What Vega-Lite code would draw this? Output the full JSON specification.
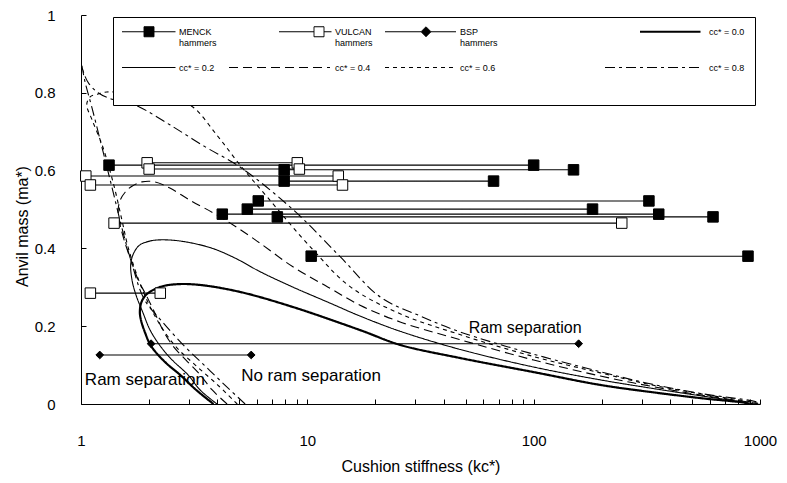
{
"$schema": "https://vega.github.io/schema/vega-lite/v6.json",
"width": 679, "height": 389,
"autosize": {"type": "none"},
"padding": {"left": 81, "top": 15, "right": 27, "bottom": 79},
"background": "white",
"config": {"view": {"stroke": null}, "font": "Liberation Sans",
 "axis": {"grid": false, "domainColor": "black", "tickColor": "black", "labelColor": "black", "titleColor": "black", "titleFontWeight": "normal", "labelFontSize": 15, "titleFontSize": 16, "labelOverlap": false, "labelBound": false, "labelFlush": false}},
"datasets": {
 "lines": [
  {"s":"MENCK","id":"M1","o":0,"k":1.33,"m":0.614},{"s":"MENCK","id":"M1","o":1,"k":100,"m":0.614},
  {"s":"MENCK","id":"M2","o":0,"k":7.9,"m":0.602},{"s":"MENCK","id":"M2","o":1,"k":150,"m":0.602},
  {"s":"MENCK","id":"M3","o":0,"k":7.9,"m":0.573},{"s":"MENCK","id":"M3","o":1,"k":66.5,"m":0.573},
  {"s":"MENCK","id":"M4","o":0,"k":6.07,"m":0.522},{"s":"MENCK","id":"M4","o":1,"k":323,"m":0.522},
  {"s":"MENCK","id":"M5","o":0,"k":5.43,"m":0.501},{"s":"MENCK","id":"M5","o":1,"k":182,"m":0.501},
  {"s":"MENCK","id":"M6","o":0,"k":4.21,"m":0.488},{"s":"MENCK","id":"M6","o":1,"k":357,"m":0.488},
  {"s":"MENCK","id":"M7","o":0,"k":7.37,"m":0.481},{"s":"MENCK","id":"M7","o":1,"k":620,"m":0.481},
  {"s":"MENCK","id":"M8","o":0,"k":10.4,"m":0.38},{"s":"MENCK","id":"M8","o":1,"k":885,"m":0.38},
  {"s":"VULCAN","id":"V1","o":0,"k":1.96,"m":0.62},{"s":"VULCAN","id":"V1","o":1,"k":9.03,"m":0.62},
  {"s":"VULCAN","id":"V2","o":0,"k":2.0,"m":0.604},{"s":"VULCAN","id":"V2","o":1,"k":9.22,"m":0.604},
  {"s":"VULCAN","id":"V3","o":0,"k":1.05,"m":0.586},{"s":"VULCAN","id":"V3","o":1,"k":13.7,"m":0.586},
  {"s":"VULCAN","id":"V4","o":0,"k":1.1,"m":0.563},{"s":"VULCAN","id":"V4","o":1,"k":14.3,"m":0.563},
  {"s":"VULCAN","id":"V5","o":0,"k":1.4,"m":0.465},{"s":"VULCAN","id":"V5","o":1,"k":245,"m":0.465},
  {"s":"VULCAN","id":"V6","o":0,"k":1.1,"m":0.285},{"s":"VULCAN","id":"V6","o":1,"k":2.24,"m":0.285},
  {"s":"BSP","id":"B1","o":0,"k":1.21,"m":0.126},{"s":"BSP","id":"B1","o":1,"k":5.65,"m":0.126},
  {"s":"BSP","id":"B2","o":0,"k":2.04,"m":0.155},{"s":"BSP","id":"B2","o":1,"k":158,"m":0.155},

  {"s":"cc0.0","id":"c0","o":0,"k":3.85,"m":0},{"s":"cc0.0","id":"c0","o":1,"k":3.23,"m":0.036},{"s":"cc0.0","id":"c0","o":2,"k":2.74,"m":0.075},{"s":"cc0.0","id":"c0","o":3,"k":2.35,"m":0.108},{"s":"cc0.0","id":"c0","o":4,"k":2.04,"m":0.149},{"s":"cc0.0","id":"c0","o":5,"k":1.92,"m":0.183},{"s":"cc0.0","id":"c0","o":6,"k":1.84,"m":0.216},{"s":"cc0.0","id":"c0","o":7,"k":1.82,"m":0.237},{"s":"cc0.0","id":"c0","o":8,"k":1.85,"m":0.262},{"s":"cc0.0","id":"c0","o":9,"k":1.95,"m":0.282},{"s":"cc0.0","id":"c0","o":10,"k":2.24,"m":0.301},{"s":"cc0.0","id":"c0","o":11,"k":2.66,"m":0.308},{"s":"cc0.0","id":"c0","o":12,"k":3.36,"m":0.306},{"s":"cc0.0","id":"c0","o":13,"k":5.05,"m":0.288},{"s":"cc0.0","id":"c0","o":14,"k":8.67,"m":0.249},{"s":"cc0.0","id":"c0","o":15,"k":17.1,"m":0.19},{"s":"cc0.0","id":"c0","o":16,"k":25.7,"m":0.152},{"s":"cc0.0","id":"c0","o":17,"k":47.5,"m":0.118},{"s":"cc0.0","id":"c0","o":18,"k":100,"m":0.082},{"s":"cc0.0","id":"c0","o":19,"k":197,"m":0.049},{"s":"cc0.0","id":"c0","o":20,"k":327,"m":0.031},{"s":"cc0.0","id":"c0","o":21,"k":548,"m":0.015},{"s":"cc0.0","id":"c0","o":22,"k":860,"m":0.003},{"s":"cc0.0","id":"c0","o":23,"k":900,"m":0},

  {"s":"cc0.2","id":"c2","o":0,"k":3.99,"m":0},{"s":"cc0.2","id":"c2","o":1,"k":3.36,"m":0.036},{"s":"cc0.2","id":"c2","o":2,"k":2.97,"m":0.075},{"s":"cc0.2","id":"c2","o":3,"k":2.53,"m":0.113},{"s":"cc0.2","id":"c2","o":4,"k":2.24,"m":0.149},{"s":"cc0.2","id":"c2","o":5,"k":2.02,"m":0.19},{"s":"cc0.2","id":"c2","o":6,"k":1.88,"m":0.234},{"s":"cc0.2","id":"c2","o":7,"k":1.75,"m":0.28},{"s":"cc0.2","id":"c2","o":8,"k":1.68,"m":0.319},{"s":"cc0.2","id":"c2","o":9,"k":1.66,"m":0.362},{"s":"cc0.2","id":"c2","o":10,"k":1.72,"m":0.391},{"s":"cc0.2","id":"c2","o":11,"k":1.82,"m":0.409},{"s":"cc0.2","id":"c2","o":12,"k":2.02,"m":0.419},{"s":"cc0.2","id":"c2","o":13,"k":2.24,"m":0.422},{"s":"cc0.2","id":"c2","o":14,"k":2.74,"m":0.419},{"s":"cc0.2","id":"c2","o":15,"k":3.72,"m":0.402},{"s":"cc0.2","id":"c2","o":16,"k":4.8,"m":0.375},{"s":"cc0.2","id":"c2","o":17,"k":6.19,"m":0.34},{"s":"cc0.2","id":"c2","o":18,"k":8.67,"m":0.3},{"s":"cc0.2","id":"c2","o":19,"k":12.3,"m":0.262},{"s":"cc0.2","id":"c2","o":20,"k":17.1,"m":0.226},{"s":"cc0.2","id":"c2","o":21,"k":25.7,"m":0.187},{"s":"cc0.2","id":"c2","o":22,"k":47.5,"m":0.14},{"s":"cc0.2","id":"c2","o":23,"k":100,"m":0.095},{"s":"cc0.2","id":"c2","o":24,"k":197,"m":0.062},{"s":"cc0.2","id":"c2","o":25,"k":327,"m":0.041},{"s":"cc0.2","id":"c2","o":26,"k":548,"m":0.021},{"s":"cc0.2","id":"c2","o":27,"k":887,"m":0.003},{"s":"cc0.2","id":"c2","o":28,"k":950,"m":0},

  {"s":"cc0.4","id":"c4","o":0,"k":4.42,"m":0},{"s":"cc0.4","id":"c4","o":1,"k":3.8,"m":0.036},{"s":"cc0.4","id":"c4","o":2,"k":3.36,"m":0.075},{"s":"cc0.4","id":"c4","o":3,"k":2.91,"m":0.113},{"s":"cc0.4","id":"c4","o":4,"k":2.55,"m":0.149},{"s":"cc0.4","id":"c4","o":5,"k":2.3,"m":0.19},{"s":"cc0.4","id":"c4","o":6,"k":2.12,"m":0.234},{"s":"cc0.4","id":"c4","o":7,"k":1.94,"m":0.28},{"s":"cc0.4","id":"c4","o":8,"k":1.79,"m":0.319},{"s":"cc0.4","id":"c4","o":9,"k":1.66,"m":0.37},{"s":"cc0.4","id":"c4","o":10,"k":1.55,"m":0.422},{"s":"cc0.4","id":"c4","o":11,"k":1.49,"m":0.46},{"s":"cc0.4","id":"c4","o":12,"k":1.46,"m":0.499},{"s":"cc0.4","id":"c4","o":13,"k":1.49,"m":0.524},{"s":"cc0.4","id":"c4","o":14,"k":1.57,"m":0.545},{"s":"cc0.4","id":"c4","o":15,"k":1.68,"m":0.56},{"s":"cc0.4","id":"c4","o":16,"k":1.86,"m":0.571},{"s":"cc0.4","id":"c4","o":17,"k":2.12,"m":0.571},{"s":"cc0.4","id":"c4","o":18,"k":2.47,"m":0.555},{"s":"cc0.4","id":"c4","o":19,"k":3.03,"m":0.524},{"s":"cc0.4","id":"c4","o":20,"k":4.12,"m":0.481},{"s":"cc0.4","id":"c4","o":21,"k":5.89,"m":0.422},{"s":"cc0.4","id":"c4","o":22,"k":8.67,"m":0.352},{"s":"cc0.4","id":"c4","o":23,"k":12.3,"m":0.301},{"s":"cc0.4","id":"c4","o":24,"k":17.1,"m":0.254},{"s":"cc0.4","id":"c4","o":25,"k":25.7,"m":0.211},{"s":"cc0.4","id":"c4","o":26,"k":47.5,"m":0.165},{"s":"cc0.4","id":"c4","o":27,"k":100,"m":0.113},{"s":"cc0.4","id":"c4","o":28,"k":197,"m":0.072},{"s":"cc0.4","id":"c4","o":29,"k":327,"m":0.046},{"s":"cc0.4","id":"c4","o":30,"k":548,"m":0.023},{"s":"cc0.4","id":"c4","o":31,"k":930,"m":0.003},{"s":"cc0.4","id":"c4","o":32,"k":980,"m":0},

  {"s":"cc0.6","id":"c6","o":0,"k":4.9,"m":0},{"s":"cc0.6","id":"c6","o":1,"k":4.0,"m":0.05},{"s":"cc0.6","id":"c6","o":2,"k":3.2,"m":0.1},{"s":"cc0.6","id":"c6","o":3,"k":2.6,"m":0.15},{"s":"cc0.6","id":"c6","o":4,"k":2.15,"m":0.22},{"s":"cc0.6","id":"c6","o":5,"k":1.85,"m":0.3},{"s":"cc0.6","id":"c6","o":6,"k":1.62,"m":0.4},{"s":"cc0.6","id":"c6","o":7,"k":1.52,"m":0.47},{"s":"cc0.6","id":"c6","o":8,"k":1.4,"m":0.56},{"s":"cc0.6","id":"c6","o":9,"k":1.25,"m":0.66},{"s":"cc0.6","id":"c6","o":10,"k":1.12,"m":0.73},{"s":"cc0.6","id":"c6","o":11,"k":1.06,"m":0.77},{"s":"cc0.6","id":"c6","o":12,"k":1.1,"m":0.79},{"s":"cc0.6","id":"c6","o":13,"k":1.19,"m":0.797},{"s":"cc0.6","id":"c6","o":14,"k":1.3,"m":0.802},{"s":"cc0.6","id":"c6","o":15,"k":1.6,"m":0.8},{"s":"cc0.6","id":"c6","o":16,"k":2.2,"m":0.79},{"s":"cc0.6","id":"c6","o":17,"k":2.7,"m":0.778},{"s":"cc0.6","id":"c6","o":18,"k":3.13,"m":0.763},{"s":"cc0.6","id":"c6","o":19,"k":4.0,"m":0.69},{"s":"cc0.6","id":"c6","o":20,"k":5.05,"m":0.614},{"s":"cc0.6","id":"c6","o":21,"k":6.65,"m":0.532},{"s":"cc0.6","id":"c6","o":22,"k":10.6,"m":0.396},{"s":"cc0.6","id":"c6","o":23,"k":15.5,"m":0.301},{"s":"cc0.6","id":"c6","o":24,"k":25.7,"m":0.232},{"s":"cc0.6","id":"c6","o":25,"k":47.5,"m":0.178},{"s":"cc0.6","id":"c6","o":26,"k":100,"m":0.122},{"s":"cc0.6","id":"c6","o":27,"k":197,"m":0.08},{"s":"cc0.6","id":"c6","o":28,"k":327,"m":0.05},{"s":"cc0.6","id":"c6","o":29,"k":548,"m":0.026},{"s":"cc0.6","id":"c6","o":30,"k":960,"m":0.003},{"s":"cc0.6","id":"c6","o":31,"k":1000,"m":0},

  {"s":"cc0.8","id":"c8","o":0,"k":5.31,"m":0},{"s":"cc0.8","id":"c8","o":1,"k":4.3,"m":0.05},{"s":"cc0.8","id":"c8","o":2,"k":3.5,"m":0.1},{"s":"cc0.8","id":"c8","o":3,"k":2.85,"m":0.15},{"s":"cc0.8","id":"c8","o":4,"k":2.3,"m":0.21},{"s":"cc0.8","id":"c8","o":5,"k":1.9,"m":0.27},{"s":"cc0.8","id":"c8","o":6,"k":1.68,"m":0.36},{"s":"cc0.8","id":"c8","o":7,"k":1.52,"m":0.45},{"s":"cc0.8","id":"c8","o":8,"k":1.38,"m":0.55},{"s":"cc0.8","id":"c8","o":9,"k":1.25,"m":0.65},{"s":"cc0.8","id":"c8","o":10,"k":1.12,"m":0.76},{"s":"cc0.8","id":"c8","o":11,"k":1.04,"m":0.83},{"s":"cc0.8","id":"c8","o":12,"k":1.01,"m":0.87},{"s":"cc0.8","id":"c8","o":13,"k":1.03,"m":0.85},{"s":"cc0.8","id":"c8","o":14,"k":1.08,"m":0.825},{"s":"cc0.8","id":"c8","o":15,"k":1.19,"m":0.8},{"s":"cc0.8","id":"c8","o":16,"k":1.35,"m":0.785},{"s":"cc0.8","id":"c8","o":17,"k":1.6,"m":0.775},{"s":"cc0.8","id":"c8","o":18,"k":1.82,"m":0.763},{"s":"cc0.8","id":"c8","o":19,"k":2.48,"m":0.717},{"s":"cc0.8","id":"c8","o":20,"k":3.54,"m":0.661},{"s":"cc0.8","id":"c8","o":21,"k":5.05,"m":0.609},{"s":"cc0.8","id":"c8","o":22,"k":8.67,"m":0.499},{"s":"cc0.8","id":"c8","o":23,"k":14,"m":0.378},{"s":"cc0.8","id":"c8","o":24,"k":21,"m":0.275},{"s":"cc0.8","id":"c8","o":25,"k":31.6,"m":0.226},{"s":"cc0.8","id":"c8","o":26,"k":47.5,"m":0.185},{"s":"cc0.8","id":"c8","o":27,"k":100,"m":0.128},{"s":"cc0.8","id":"c8","o":28,"k":197,"m":0.083},{"s":"cc0.8","id":"c8","o":29,"k":327,"m":0.052},{"s":"cc0.8","id":"c8","o":30,"k":548,"m":0.027},{"s":"cc0.8","id":"c8","o":31,"k":995,"m":0.003},{"s":"cc0.8","id":"c8","o":32,"k":1000,"m":0}
 ],
 "notes": [
  {"t":"Ram separation","k":1.04,"m":0.062,"f":17},
  {"t":"No ram separation","k":5.1,"m":0.072,"f":17},
  {"t":"Ram separation","k":51.6,"m":0.195,"f":16}
 ]
},
"layer": [
 {"data": {"name": "lines"},
  "mark": {"type": "line", "clip": true, "interpolate": "catmull-rom", "color": "black"},
  "encoding": {
   "x": {"field": "k", "type": "quantitative", "scale": {"type": "log", "domain": [1, 1000]},
    "axis": {"title": "Cushion stiffness (kc*)", "values": [1,2,3,4,5,6,7,8,9,10,20,30,40,50,60,70,80,90,100,200,300,400,500,600,700,800,900,1000], "format": "d", "labelExpr": "datum.value == 1 || datum.value == 10 || datum.value == 100 || datum.value == 1000 ? datum.label : ''", "tickSize": -5, "tickWidth": 1, "labelPadding": 34, "titlePadding": 10}},
   "y": {"field": "m", "type": "quantitative", "scale": {"domain": [0, 1], "nice": false, "zero": false},
    "axis": {"title": "Anvil mass (ma*)", "values": [0,0.1,0.2,0.3,0.4,0.5,0.6,0.7,0.8,0.9,1], "format": "~g", "tickSize": -5, "tickWidth": 1, "labelPadding": 31, "titlePadding": 4, "titleY": 211}},
   "detail": {"field": "id"},
   "order": {"field": "o", "type": "quantitative"},
   "strokeWidth": {"condition": {"test": "datum.s == 'cc0.0'", "value": 2.2}, "value": 1.1},
   "strokeDash": {"field": "s", "type": "nominal",
    "scale": {"domain": ["MENCK","VULCAN","BSP","cc0.0","cc0.2","cc0.4","cc0.6","cc0.8"], "range": [[1,0],[1,0],[1,0],[1,0],[1,0],[9,5],[4,4],[10,4,3,4]]},
    "legend": {"title": null, "orient": "none", "legendX": 32, "legendY": 2, "direction": "horizontal", "columns": 4,
     "fillColor": "white", "strokeColor": "black", "padding": 10, "rowPadding": 15, "columnPadding": 10,
     "symbolSize": 100, "symbolStrokeColor": "black", "symbolStrokeWidth": 1, "symbolOffset": 0,
     "labelOffset": 47, "labelFontSize": 9, "labelFont": "Liberation Sans", "labelColor": "black", "labelLimit": 300,
     "labelExpr": "datum.value == 'MENCK' ? ['MENCK','hammers'] : datum.value == 'VULCAN' ? ['VULCAN','hammers'] : datum.value == 'BSP' ? ['BSP','hammers'] : datum.value == 'cc0.0' ? ['cc* = 0.0', ''] : ['cc* = ' + substring(datum.value, 2), '', '']",
     "encode": {"symbols": {"update": {
       "shape": {"signal": "datum.value == 'MENCK' ? 'M-1.1,0H3.3M5.3,0H9.6M3.3,-1H5.3V1H3.3Z' : datum.value == 'VULCAN' ? 'M-10.9,0M-0.9,0H6.1M8.1,0H9.6M6.1,-1H8.1V1H6.1Z' : datum.value == 'BSP' ? 'M-4.7,0H2.5M4.5,0H9.5M3.5,-1L4.5,0L3.5,1L2.5,0Z' : datum.value == 'cc0.0' ? 'M-28.9,0M-3.5,0H8.6' : datum.value == 'cc0.2' ? 'M-1.1,0H9.6' : datum.value == 'cc0.4' ? 'M-10.9,0H9.3' : datum.value == 'cc0.6' ? 'M-4.7,0H9.6' : 'M-28.9,0M-10.5,0H9.0'"},
       "fill": {"signal": "datum.value == 'VULCAN' ? 'white' : (datum.value == 'MENCK' || datum.value == 'BSP') ? 'black' : 'transparent'"},
       "strokeWidth": {"signal": "datum.value == 'cc0.0' ? 2.2 : 1"},
       "stroke": {"value": "black"},
       "opacity": {"value": 1}}}}}}
  }},
 {"data": {"name": "lines"},
  "transform": [{"filter": "datum.s == 'MENCK' || datum.s == 'VULCAN' || datum.s == 'BSP'"}],
  "mark": {"type": "point", "stroke": "black", "strokeWidth": 1, "opacity": 1},
  "encoding": {
   "x": {"field": "k", "type": "quantitative"},
   "y": {"field": "m", "type": "quantitative"},
   "shape": {"condition": {"test": "datum.s == 'BSP'", "value": "diamond"}, "value": "square"},
   "fill": {"condition": {"test": "datum.s == 'VULCAN'", "value": "white"}, "value": "black"},
   "size": {"condition": {"test": "datum.s == 'BSP'", "value": 60}, "value": 110}
  }},
 {"data": {"name": "notes"},
  "mark": {"type": "text", "align": "left", "baseline": "middle", "font": "Liberation Sans", "color": "black"},
  "encoding": {
   "x": {"field": "k", "type": "quantitative"},
   "y": {"field": "m", "type": "quantitative"},
   "text": {"field": "t"},
   "size": {"field": "f", "type": "quantitative", "scale": null}
  }}
]
}
